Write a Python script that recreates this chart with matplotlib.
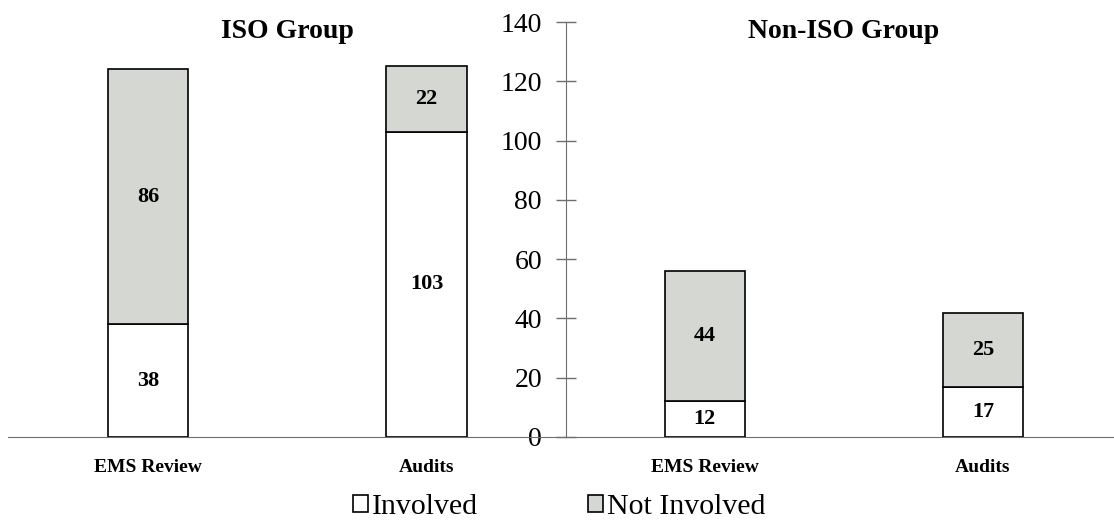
import matplotlib
matplotlib.use("Agg")
import matplotlib.pyplot as plt
import numpy as np

plt.rcParams["font.family"] = ["Liberation Serif", "DejaVu Serif"]

categories = ["EMS Review", "Audits", "EMS Review", "Audits"]
groups = ["ISO Group", "Non-ISO Group"]
involved = [38, 103, 12, 17]
not_involved = [86, 22, 44, 25]
yticks = [0, 20, 40, 60, 80, 100, 120, 140]

GREY = "#d5d7d3"
AXIS = "#6e6e6e"

fig = plt.figure(figsize=(11.14, 5.23), dpi=100)
ax = fig.add_axes([8 / 1114, 86 / 523, 1 - 8 / 1114, 415 / 523])

x = np.arange(len(categories))
w = 0.288
ax.bar(x, involved, w, color="white", edgecolor="black", linewidth=1.2,
       label="Involved", zorder=3)
ax.bar(x, not_involved, w, bottom=involved, color=GREY, edgecolor="black",
       linewidth=1.2, label="Not Involved", zorder=3)

for xi, a, b in zip(x, involved, not_involved):
    ax.text(xi, a / 2, str(a), ha="center", va="center", fontsize=16,
            fontweight="bold", zorder=4)
    ax.text(xi, a + b / 2, str(b), ha="center", va="center", fontsize=16,
            fontweight="bold", zorder=4)

# group headings sit between the two bars of each group
for gx, g in zip([0.5, 2.5], groups):
    ax.text(gx, 134.5, g, ha="center", va="baseline", fontsize=20,
            fontweight="bold")

ax.set_xlim(-0.504, 3.471)
ax.set_ylim(0, 140)

# value axis drawn in the middle, between the two groups
for s in ("top", "right"):
    ax.spines[s].set_visible(False)
ax.spines["left"].set_position(("data", 1.5))
ax.spines["left"].set_color(AXIS)
ax.spines["bottom"].set_color(AXIS)
ax.spines["left"].set_bounds(0, 140)

ax.set_yticks(yticks)
ax.tick_params(axis="y", direction="inout", length=14, width=1, color=AXIS,
               labelsize=20, pad=10)
ax.set_xticks(x)
ax.set_xticklabels(categories, fontsize=14, fontweight="bold")
ax.tick_params(axis="x", length=0, pad=16)

fig.legend(loc="lower center", bbox_to_anchor=(0.502, -0.028), ncol=2,
           frameon=False, fontsize=21.5, handlelength=0.5, handleheight=0.5,
           handletextpad=0.13, columnspacing=3.7, borderaxespad=0.2)

fig.savefig("out.png", dpi=100)
